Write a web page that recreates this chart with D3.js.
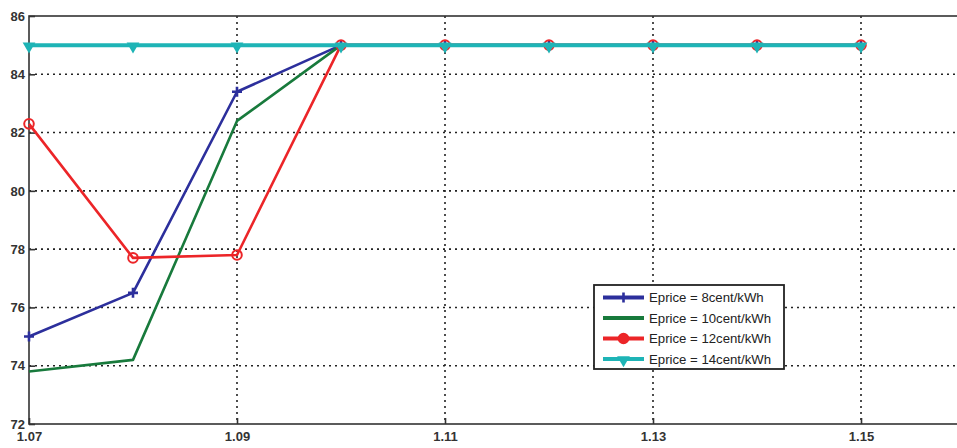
<!DOCTYPE html>
<html>
<head>
<meta charset="utf-8">
<script src="https://cdn.jsdelivr.net/npm/d3@7"></script>
<style>
  body { margin: 0; background: #fff; }
  svg { display: block; font-family: "Liberation Sans", Arial, sans-serif; }
</style>
</head>
<body>
<svg id="chart" width="957" height="448"></svg>
<script>
// data
var xValues = [1.07, 1.08, 1.09, 1.10, 1.11, 1.12, 1.13, 1.14, 1.15];
var price8 = [75.0, 76.5, 83.4, 85, 85, 85, 85, 85, 85];
var price10 = [73.8, 74.2, 82.4, 85, 85, 85, 85, 85, 85];
var price12 = [82.3, 77.7, 77.8, 85, 85, 85, 85, 85, 85];
var price14 = [85, 85, 85, 85, 85, 85, 85, 85, 85];
var seriesNames = ["Eprice = 8cent/kWh", "Eprice = 10cent/kWh", "Eprice = 12cent/kWh", "Eprice = 14cent/kWh"];
var xTicks = [1.07, 1.09, 1.11, 1.13, 1.15];
var yTicks = [72, 74, 76, 78, 80, 82, 84, 86];

var series = [
    { name: seriesNames[0], values: price8, color: "#2c2f9c", width: 2.6, marker: "plus" },
    { name: seriesNames[1], values: price10, color: "#187a3c", width: 2.6, marker: "none" },
    { name: seriesNames[2], values: price12, color: "#ec2528", width: 2.6, marker: "circle" },
    { name: seriesNames[3], values: price14, color: "#1eb4b6", width: 4, marker: "tri" }
];

var svg = d3.select("#chart");

// plot area (right edge runs past the window, like the reference crop)
var plotLeft = 29, plotTop = 16, plotBottom = 424;
var xScale = d3.scaleLinear().domain([1.07, 1.16]).range([plotLeft, plotLeft + 936]);
var yScale = d3.scaleLinear().domain([72, 86]).range([plotBottom, plotTop]);

// grid
svg.append("g").selectAll("line")
    .data(yTicks.slice(1, -1))
    .enter().append("line")
    .attr("x1", plotLeft).attr("x2", xScale(1.16))
    .attr("y1", function (d) { return yScale(d); })
    .attr("y2", function (d) { return yScale(d); })
    .style("stroke", "#222").style("stroke-width", 1.6)
    .style("stroke-dasharray", "2,4");

svg.append("g").selectAll("line")
    .data(xTicks.slice(1))
    .enter().append("line")
    .attr("x1", function (d) { return xScale(d); })
    .attr("x2", function (d) { return xScale(d); })
    .attr("y1", plotTop).attr("y2", plotBottom)
    .style("stroke", "#222").style("stroke-width", 1.6)
    .style("stroke-dasharray", "2,4");

// frame
svg.append("rect")
    .attr("x", plotLeft).attr("y", plotTop)
    .attr("width", xScale(1.16) - plotLeft).attr("height", plotBottom - plotTop)
    .style("fill", "none").style("stroke", "#333").style("stroke-width", 1.6);

// axes
var xAxis = d3.axisBottom(xScale).tickValues(xTicks).tickSize(-6).tickPadding(8)
    .tickFormat(d3.format(".2f"));
var gx = svg.append("g").attr("transform", "translate(0," + plotBottom + ")").call(xAxis);
gx.select(".domain").remove();
gx.selectAll("line").style("stroke", "#333").style("stroke-width", 1.6);
gx.selectAll("text").style("font-size", "13px").style("font-weight", "bold").style("fill", "#333");

var yAxis = d3.axisLeft(yScale).tickValues(yTicks).tickSize(-6).tickPadding(4);
var gy = svg.append("g").attr("transform", "translate(" + plotLeft + ",0)").call(yAxis);
gy.select(".domain").remove();
gy.selectAll("line").style("stroke", "#333").style("stroke-width", 1.6);
gy.selectAll("text").style("font-size", "13px").style("font-weight", "bold").style("fill", "#333");

var line = d3.line()
    .x(function (d, i) { return xScale(xValues[i]); })
    .y(function (d) { return yScale(d); });

function drawMarker(g, type, color, x, y, filled) {
    if (type === "plus") {
        g.append("path")
            .attr("d", "M" + (x - 5) + "," + y + "h10M" + x + "," + (y - 5) + "v10")
            .style("stroke", color).style("stroke-width", 2.6);
    } else if (type === "circle") {
        g.append("circle").attr("cx", x).attr("cy", y).attr("r", 4.8)
            .style("fill", filled ? color : "none").style("stroke", color).style("stroke-width", 2);
    } else if (type === "tri") {
        g.append("path")
            .attr("d", d3.symbol().type(d3.symbolTriangle).size(70)())
            .attr("transform", "translate(" + x + "," + (y + 1) + ") rotate(180)")
            .style("fill", color);
    }
}

series.forEach(function (s) {
    var g = svg.append("g");
    g.append("path")
        .datum(s.values)
        .attr("d", line)
        .style("fill", "none")
        .style("stroke", s.color)
        .style("stroke-width", s.width)
        .style("stroke-linejoin", "round");
    s.values.forEach(function (v, i) {
        drawMarker(g, s.marker, s.color, xScale(xValues[i]), yScale(v), false);
    });
});

// legend
var legend = svg.append("g").attr("transform", "translate(594,285)");
legend.append("rect")
    .attr("width", 190).attr("height", 84)
    .style("fill", "#fff").style("stroke", "#222").style("stroke-width", 1.8);
series.forEach(function (s, i) {
    var y = 12.5 + i * 20.5;
    legend.append("line")
        .attr("x1", 9).attr("x2", 50).attr("y1", y).attr("y2", y)
        .style("stroke", s.color).style("stroke-width", 4);
    drawMarker(legend, s.marker, s.color, 29.5, y, true);
    legend.append("text")
        .attr("x", 55).attr("y", y).attr("dy", "0.36em")
        .style("font-size", "13.2px").style("fill", "#222")
        .text(s.name);
});
</script>
</body>
</html>
